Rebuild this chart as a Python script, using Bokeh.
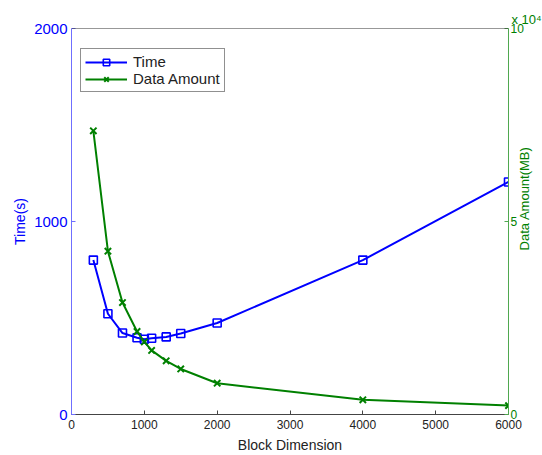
import math
from bokeh.plotting import figure
from bokeh.models import (Range1d, LinearAxis, FixedTicker, Span, Legend, Title)
from bokeh.embed import file_html
from bokeh.resources import INLINE

# ---- data ----
block_dim = [300, 500, 700, 900, 1000, 1100, 1300, 1500, 2000, 4000, 6000]
time_s = [800, 522, 422, 398, 390, 395, 402, 420, 474, 800, 1205]
data_mb = [73500, 42300, 29000, 21500, 18800, 16600, 13900, 11800, 8100, 3800, 2300]

x_ticks = [0, 1000, 2000, 3000, 4000, 5000, 6000]
left_ticks = [0, 1000, 2000]
right_ticks = [0, 50000, 100000]
right_tick_labels = {0: "0", 50000: "5", 100000: "10"}

BLUE = "#0000ff"
GREEN = "#008000"
FONT = "Liberation Sans"
RIGHT_TITLE_ANCHOR = 42500  # where the right axis title starts (on the right scale)

p = figure(width=542, height=455, x_range=Range1d(0, 6000), y_range=Range1d(0, 2000),
           output_backend="svg", toolbar_location=None,
           min_border_left=71, min_border_right=33, min_border_top=28, min_border_bottom=41)
p.extra_y_ranges = {"data": Range1d(0, 100000)}
p.xgrid.visible = False
p.ygrid.visible = False
p.outline_line_color = None
p.background_fill_color = "white"
p.border_fill_color = "white"

# bottom axis
xa = p.xaxis[0]
xa.ticker = FixedTicker(ticks=x_ticks)
xa.axis_label = "Block Dimension"
xa.axis_label_text_font = FONT
xa.axis_label_text_font_size = "14px"
xa.axis_label_text_font_style = "normal"
xa.axis_label_text_color = "#222222"
xa.axis_label_standoff = 5
xa.major_label_text_font = FONT
xa.major_label_text_font_size = "12px"
xa.major_label_text_color = "#222222"
xa.major_label_standoff = 5
xa.major_tick_in = 4
xa.major_tick_out = 0
xa.minor_tick_line_color = None
xa.axis_line_color = "#444444"
xa.major_tick_line_color = "#444444"

# left axis
ya = p.yaxis[0]
ya.ticker = FixedTicker(ticks=left_ticks)
ya.axis_label = "Time(s)"
ya.axis_label_text_font = FONT
ya.axis_label_text_font_size = "14px"
ya.axis_label_text_font_style = "normal"
ya.axis_label_text_color = BLUE
ya.axis_label_standoff = 3
ya.major_label_text_font = FONT
ya.major_label_text_font_size = "15px"
ya.major_label_text_color = BLUE
ya.major_label_standoff = 4
ya.major_tick_in = 4
ya.major_tick_out = 0
ya.minor_tick_line_color = None
ya.axis_line_color = "#6f6fff"
ya.major_tick_line_color = "#6f6fff"

# right axis (ticks)
ra = LinearAxis(y_range_name="data", ticker=FixedTicker(ticks=right_ticks),
                major_label_overrides=right_tick_labels)
ra.major_label_text_font = FONT
ra.major_label_text_font_size = "12px"
ra.major_label_text_color = GREEN
ra.major_label_standoff = 2
ra.major_tick_in = 4
ra.major_tick_out = 0
ra.minor_tick_line_color = None
ra.axis_line_color = "#4fa84f"
ra.major_tick_line_color = "#4fa84f"
p.add_layout(ra, "right")

# right axis title, reading bottom-to-top
rt = LinearAxis(y_range_name="data", ticker=FixedTicker(ticks=[RIGHT_TITLE_ANCHOR]),
                major_label_overrides={RIGHT_TITLE_ANCHOR: "Data Amount(MB)"})
rt.major_label_orientation = math.pi / 2
rt.major_label_text_font = FONT
rt.major_label_text_font_size = "13px"
rt.major_label_text_color = GREEN
rt.major_label_standoff = -2
rt.major_tick_in = 0
rt.major_tick_out = 0
rt.major_tick_line_color = None
rt.minor_tick_line_color = None
rt.axis_line_color = None
p.add_layout(rt, "right")

# exponent of the right axis
p.add_layout(Title(text="x 10\u2074", align="left", offset=440, standoff=3,
                   text_font=FONT, text_font_size="13px", text_font_style="normal",
                   text_color=GREEN), "above")

# top border
p.add_layout(Span(location=2000, dimension="width", line_color="#333333", line_width=1))

# series
l1 = p.line(block_dim, time_s, line_color=BLUE, line_width=2)
s1 = p.scatter(block_dim, time_s, marker="square", size=8, line_color=BLUE,
               fill_color=None, line_width=1.6)
l2 = p.line(block_dim, data_mb, line_color=GREEN, line_width=2, y_range_name="data")
s2 = p.scatter(block_dim, data_mb, marker="x", size=9, line_color=GREEN,
               line_width=2, y_range_name="data")

legend = Legend(items=[("Time", [l1, s1]), ("Data Amount", [l2, s2])],
                location=(9, 322))
legend.label_text_font = FONT
legend.label_text_font_size = "15px"
legend.label_text_color = "#222222"
legend.glyph_width = 42
legend.glyph_height = 16
legend.label_height = 16
legend.label_standoff = 6
legend.spacing = 0
legend.padding = 4
legend.margin = 0
legend.border_line_color = "#222222"
legend.border_line_width = 1
legend.background_fill_color = "white"
legend.background_fill_alpha = 1
p.add_layout(legend)

open("out.html", "w").write(file_html(p, INLINE))
